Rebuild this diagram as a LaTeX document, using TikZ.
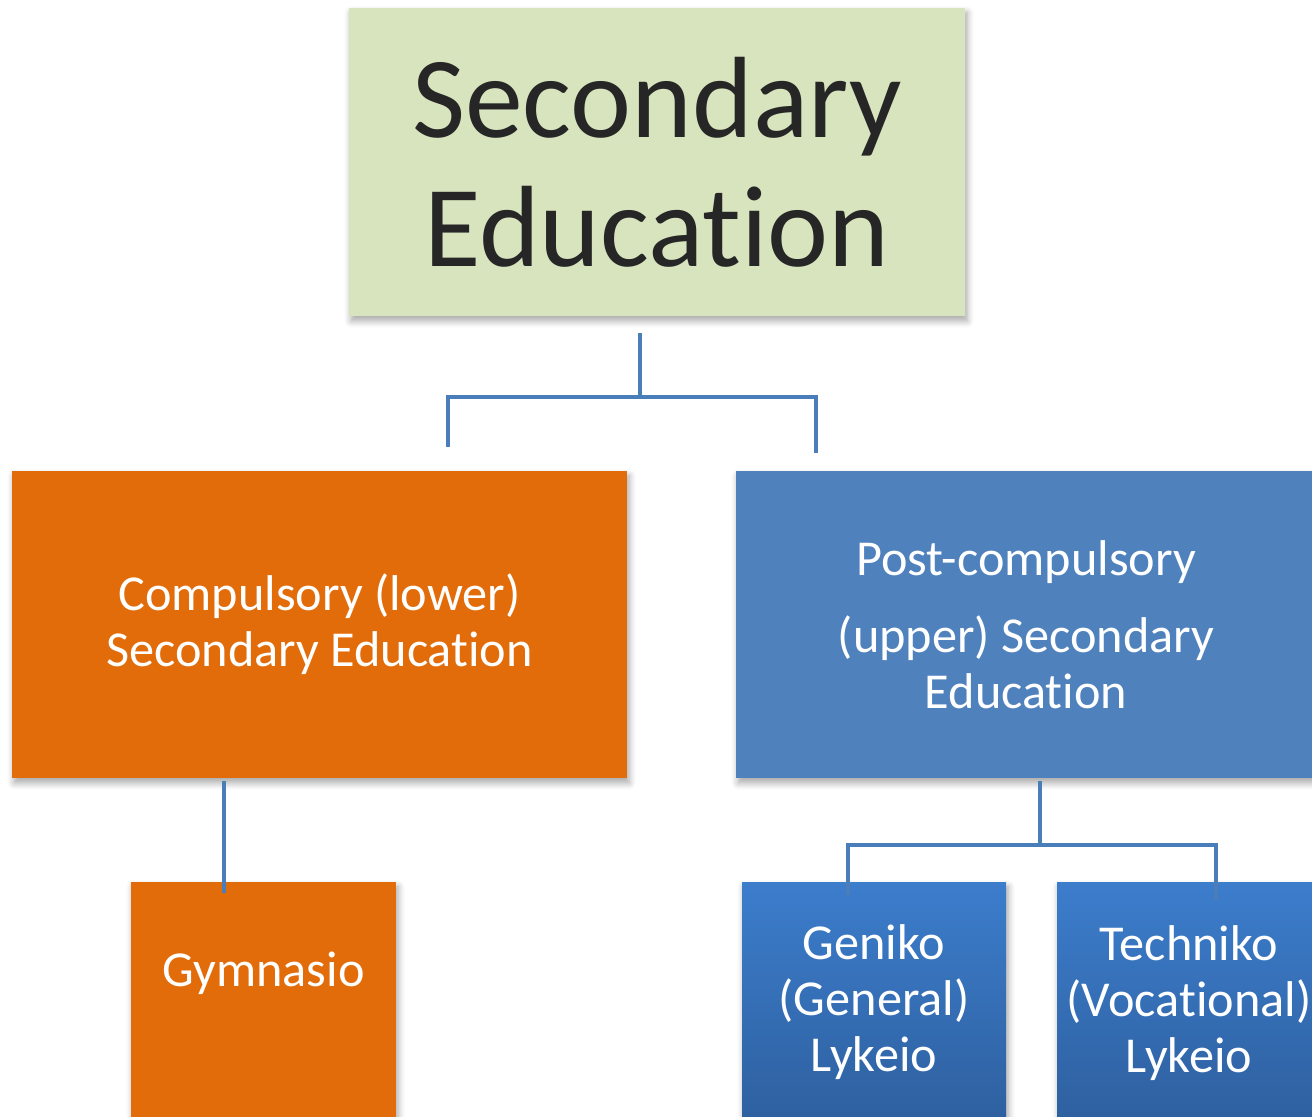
\documentclass[tikz,border=0pt]{standalone}
\usepackage{fontspec}
\setmainfont{Carlito}[Ligatures=NoCommon]
\usetikzlibrary{shadows.blur}

\definecolor{secgreen}{RGB}{215,228,189}
\definecolor{comporange}{RGB}{227,108,10}
\definecolor{postblue}{RGB}{79,129,189}
\definecolor{lykeiotop}{RGB}{60,125,204}
\definecolor{lykeiobot}{RGB}{45,94,156}
\definecolor{linkblue}{RGB}{74,126,187}
\definecolor{titlegray}{RGB}{38,38,38}

\begin{document}
\begin{tikzpicture}
\def \boxy {-6.245}
\def \lowy {-10.11}
   \useasboundingbox (0,0) rectangle (13.12,-11.17);
   \clip (0,0) rectangle (13.12,-11.17);
   \tikzset{BoxStyle/.style = {shape = rectangle, inner sep = 0pt, align = center, text = white,
                               blur shadow = {shadow xshift = 0.6pt, shadow yshift = -1.4pt,
                                              shadow blur steps = 6, shadow opacity = 35}},
            MidText/.style = {font = \fontsize{14.3}{15.9}\selectfont},
            LowText/.style = {MidText, text = white, align = center, anchor = base},
            EdgeStyle/.style = {draw = linkblue, line width = 1.1pt}}

   % top level
   \node[BoxStyle, fill = secgreen, text = titlegray, minimum width = 6.16cm, minimum height = 3.08cm,
         font = \fontsize{32.9}{36.7}\selectfont] (sec) at (6.57,-1.62) {Secondary\\Education};

   % second level
   \node[BoxStyle, MidText, fill = comporange, minimum width = 6.15cm, minimum height = 3.07cm]
        (lower) at (3.195,\boxy) {Compulsory (lower)\\Secondary Education};
   \node[BoxStyle, MidText, fill = postblue, minimum width = 5.80cm, minimum height = 3.07cm]
        (upper) at (10.26,\boxy) {Post-compulsory\\[6pt](upper) Secondary\\Education};

   % third level
   \node[BoxStyle, fill = comporange, minimum width = 2.65cm, minimum height = 2.58cm] (gym) at (2.635,\lowy) {};
   \node[BoxStyle, top color = lykeiotop, bottom color = lykeiobot, minimum width = 2.64cm, minimum height = 2.58cm]
        (gen) at (8.74,\lowy) {};
   \node[BoxStyle, top color = lykeiotop, bottom color = lykeiobot, minimum width = 2.64cm, minimum height = 2.58cm]
        (tech) at (11.89,\lowy) {};
   \node[LowText] (gymtext) at (2.635,-9.86) {Gymnasio};
   \node[LowText] (gentext) at (8.74,-10.71) {Geniko\\(General)\\Lykeio};
   \node[LowText] (techtext) at (11.89,-10.72) {Techniko\\(Vocational)\\Lykeio};

   % links
   \coordinate (s0) at (6.40,-3.33);
   \coordinate (s1) at (6.40,-3.97);
   \coordinate (l0) at (4.48,-4.47);
   \coordinate (u0) at (8.16,-4.53);
   \coordinate (c0) at (2.24,-7.81);
   \coordinate (c1) at (2.24,-8.93);
   \coordinate (p0) at (10.40,-7.81);
   \coordinate (p1) at (10.40,-8.45);
   \coordinate (g0) at (8.48,-8.95);
   \coordinate (t0) at (12.16,-9.00);
	\draw[EdgeStyle] (s0) -- (s1);
	\draw[EdgeStyle] (l0) |- (s1) -| (u0);
	\draw[EdgeStyle, line width = 0.9pt] (c0) -- (c1);
	\draw[EdgeStyle, line width = 0.9pt] (p0) -- (p1);
	\draw[EdgeStyle, line width = 0.9pt] (g0) |- (p1) -| (t0);
\end{tikzpicture}
\end{document}
